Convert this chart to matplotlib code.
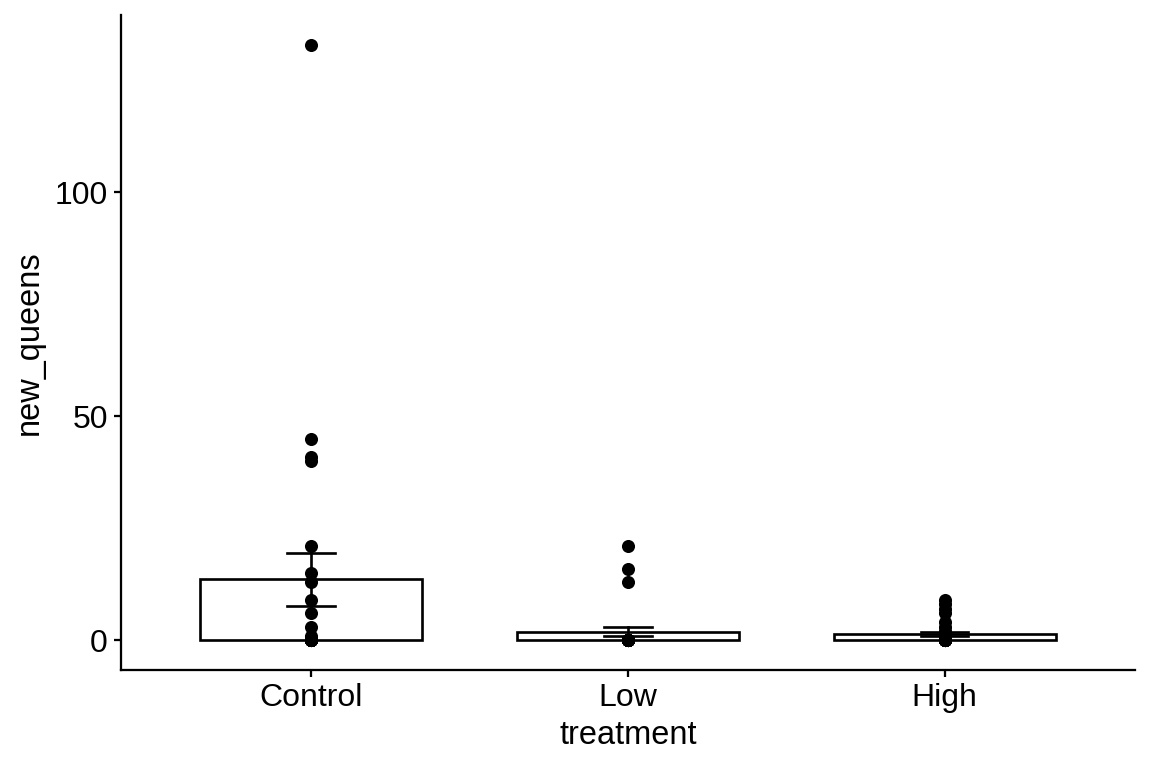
import numpy as np
import matplotlib
matplotlib.use("Agg")
import matplotlib.pyplot as plt

plt.rcParams['font.family'] = ['Liberation Sans', 'DejaVu Sans']

categories = ["Control", "Low", "High"]
control_vals = [133, 45, 41, 40, 21, 15, 13, 9, 6, 3, 1] + [0] * 13
low_vals = [21, 16, 13] + [0] * 23
high_vals = [9, 8, 7, 6, 4, 3, 2, 1, 1] + [0] * 21
groups = [control_vals, low_vals, high_vals]
y_ticks = [0, 50, 100]

fig = plt.figure(figsize=(6, 4), dpi=192)
ax = fig.add_axes([0.105, 0.1276, 0.88, 0.853])

x = np.arange(1, len(categories) + 1)
means = [np.mean(g) for g in groups]
ses = [np.std(g, ddof=1) / np.sqrt(len(g)) for g in groups]

lw = 1.0
axlw = 0.85
ax.bar(x, means, width=0.7, facecolor="white", edgecolor="black", linewidth=lw, zorder=1)
for xi, m, s in zip(x, means, ses):
    ax.plot([xi, xi], [m - s, m + s], color="black", lw=lw, zorder=2)
    ax.plot([xi - 0.075, xi + 0.075], [m - s, m - s], color="black", lw=lw, zorder=2)
    ax.plot([xi - 0.075, xi + 0.075], [m + s, m + s], color="black", lw=lw, zorder=2)
for xi, g in zip(x, groups):
    ax.plot([xi] * len(g), g, 'o', color="black", markersize=4.9, markeredgewidth=0, zorder=3)

ax.set_xlim(0.4, 3.6)
ymax = max(max(g) for g in groups)
ax.set_ylim(-0.05 * ymax, ymax * 1.05)
ax.set_xticks(x)
ax.set_xticklabels(categories)
ax.set_yticks(y_ticks)
ax.set_xlabel("treatment", fontsize=12.2, labelpad=2.5)
ax.set_ylabel("new_queens", fontsize=12.2, labelpad=3.5)
ax.tick_params(axis='both', labelsize=12, width=axlw, length=2.7, color="black", labelcolor="black", pad=2.2)
for sp in ["top", "right"]:
    ax.spines[sp].set_visible(False)
for sp in ["left", "bottom"]:
    ax.spines[sp].set_linewidth(axlw)

fig.savefig("out.png", dpi=192)
